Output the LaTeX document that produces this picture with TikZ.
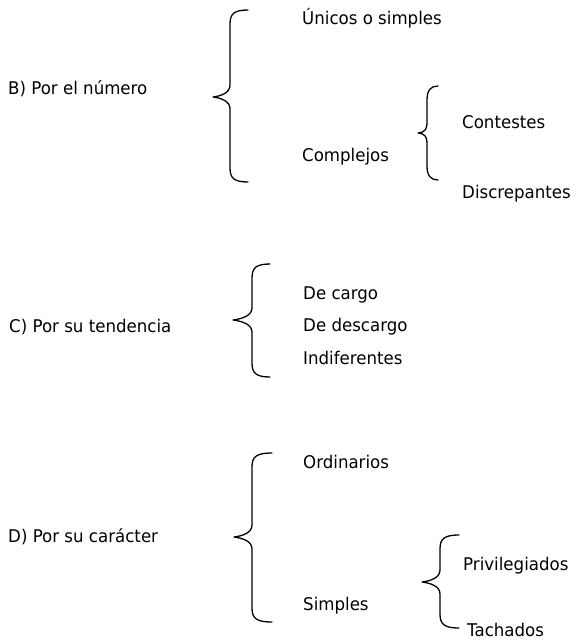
\documentclass[tikz,border=0pt]{standalone}
\usepackage{fontspec}
\setmainfont[FakeStretch=0.95]{DejaVu Sans}
\newcommand{\curlybr}[6]{% xend, xv, xtip, top, mid, bottom
  \draw[bracestyle] (#1,#4) .. controls (#2+4,#4) and (#2,#4+4) .. (#2,#4+14)
    -- (#2,#5-12) .. controls (#2,#5-4) and (#3+8,#5-1) .. (#3,#5)
    .. controls (#3+8,#5+1) and (#2,#5+4) .. (#2,#5+12)
    -- (#2,#6-14) .. controls (#2,#6-4) and (#2+4,#6) .. (#1,#6);}
\begin{document}
\begin{tikzpicture}[x=1pt,y=-1pt,
  lbl/.style={anchor=mid west,inner sep=0pt,font=\fontsize{17.5}{20}\selectfont},
  bracestyle/.style={line width=1.3pt,line cap=round,line join=round}]
\useasboundingbox (0,0) rectangle (573,642);
% B
\node[lbl] (b) at (8,92) {B) Por el número};
\node[lbl] (unicos) at (302,22) {Únicos o simples};
\node[lbl] (complejos) at (302,159) {Complejos};
\node[lbl] (contestes) at (462,126) {Contestes};
\node[lbl] (discrepantes) at (462,196) {Discrepantes};
\curlybr{248}{230}{213}{10}{97}{182}
\curlybr{438}{427}{418}{86}{133}{180}
% C
\node[lbl] (c) at (9,330) {C) Por su tendencia};
\node[lbl] (cargo) at (303,297) {De cargo};
\node[lbl] (descargo) at (303,329) {De descargo};
\node[lbl] (indif) at (303,362) {Indiferentes};
\curlybr{270}{252}{233}{264}{320}{377}
% D
\node[lbl] (d) at (8,540) {D) Por su carácter};
\node[lbl] (ordinarios) at (303,466) {Ordinarios};
\node[lbl] (simples) at (303,608) {Simples};
\node[lbl] (privilegiados) at (463,568) {Privilegiados};
\node[lbl] (tachados) at (467,634) {Tachados};
\curlybr{272}{252}{234}{453}{537}{622}
\curlybr{459}{440}{422}{535}{582}{628}
\end{tikzpicture}
\end{document}
